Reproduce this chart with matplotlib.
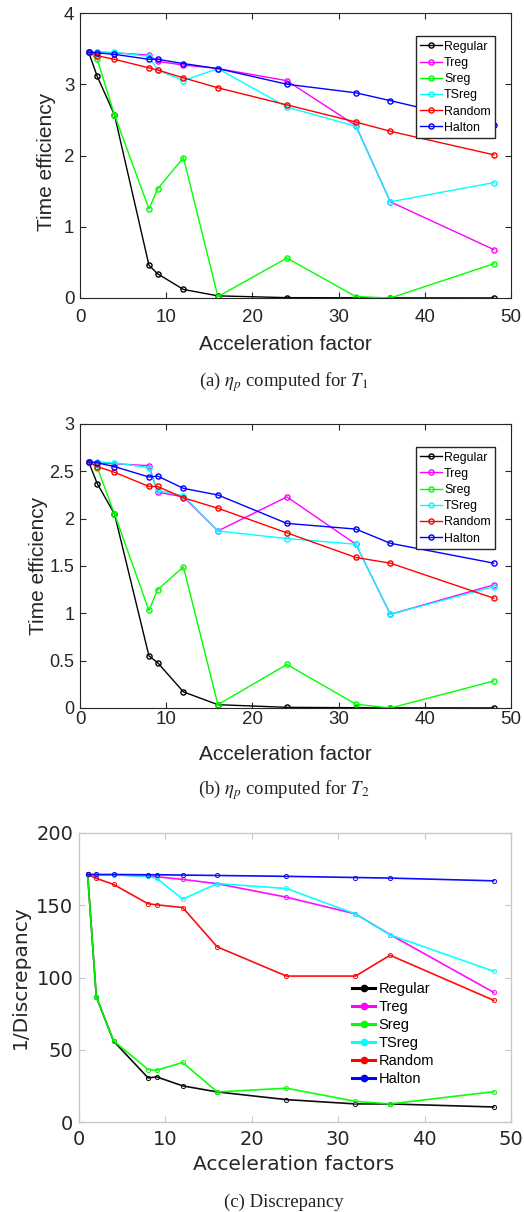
import matplotlib
matplotlib.use("Agg")
import matplotlib.pyplot as plt
from matplotlib.lines import Line2D

# acceleration factors
accel = [1, 2, 4, 8, 9, 12, 16, 24, 32, 36, 48]
names = ["Regular", "Treg", "Sreg", "TSreg", "Random", "Halton"]
colors = ["#000000", "#ff00ff", "#00ff00", "#00ffff", "#ff0000", "#0000ff"]

# (a) time efficiency for T1
t1_regular = [3.45, 3.11, 2.57, 0.46, 0.34, 0.12, 0.03, 0.005, 0.003, 0.002, 0.001]
t1_treg = [3.45, 3.45, 3.44, 3.41, 3.32, 3.27, 3.22, 3.05, 2.42, 1.35, 0.68]
t1_sreg = [3.45, 3.35, 2.57, 1.25, 1.53, 1.97, 0.02, 0.56, 0.02, 0.0, 0.48]
t1_tsreg = [3.45, 3.45, 3.45, 3.39, 3.20, 3.05, 3.22, 2.68, 2.41, 1.35, 1.62]
t1_random = [3.45, 3.40, 3.35, 3.23, 3.20, 3.09, 2.95, 2.71, 2.47, 2.34, 2.01]
t1_halton = [3.45, 3.44, 3.42, 3.35, 3.35, 3.29, 3.22, 3.00, 2.88, 2.77, 2.43]

# (b) time efficiency for T2
t2_regular = [2.60, 2.37, 2.05, 0.55, 0.48, 0.17, 0.035, 0.007, 0.003, 0.002, 0.001]
t2_treg = [2.60, 2.59, 2.58, 2.56, 2.28, 2.23, 1.87, 2.23, 1.73, 0.99, 1.30]
t2_sreg = [2.60, 2.54, 2.05, 1.03, 1.25, 1.49, 0.035, 0.46, 0.04, 0.0, 0.285]
t2_tsreg = [2.60, 2.60, 2.59, 2.54, 2.30, 2.24, 1.87, 1.79, 1.73, 0.99, 1.28]
t2_random = [2.60, 2.55, 2.49, 2.34, 2.34, 2.22, 2.11, 1.85, 1.59, 1.53, 1.16]
t2_halton = [2.60, 2.59, 2.55, 2.44, 2.45, 2.32, 2.25, 1.95, 1.89, 1.74, 1.53]

# (c) 1/discrepancy
d_regular = [171.3, 86.7, 56.0, 30.5, 31.2, 25.0, 20.8, 15.5, 12.5, 12.5, 10.4]
d_treg = [171.3, 170.9, 171.0, 170.2, 169.7, 167.9, 164.9, 155.6, 144.0, 129.7, 89.7]
d_sreg = [171.3, 86.7, 56.2, 36.3, 35.8, 41.2, 20.8, 23.4, 14.3, 12.5, 21.0]
d_tsreg = [171.3, 171.0, 171.0, 170.0, 168.6, 154.2, 165.0, 161.6, 144.0, 129.5, 104.3]
d_random = [171.3, 168.6, 164.4, 151.0, 150.3, 148.4, 121.2, 101.0, 101.0, 115.4, 84.2]
d_halton = [171.3, 171.3, 171.3, 171.1, 171.1, 170.9, 170.6, 170.0, 169.2, 168.8, 166.9]

eff1 = [t1_regular, t1_treg, t1_sreg, t1_tsreg, t1_random, t1_halton]
eff2 = [t2_regular, t2_treg, t2_sreg, t2_tsreg, t2_random, t2_halton]
disc = [d_regular, d_treg, d_sreg, d_tsreg, d_random, d_halton]

plt.rcParams["mathtext.fontset"] = "stix"

fig = plt.figure(figsize=(5.24, 12.12), dpi=100)
W, H = 524.0, 1212.0


def axes_px(left, top, right, bottom):
    ax = fig.add_axes([left / W, 1 - bottom / H, (right - left) / W, (bottom - top) / H])
    ax.px_box = (left, top, right, bottom)
    return ax


def place_labels(ax, xl, yl):
    # put axis labels at given pixel centres
    left, top, right, bottom = ax.px_box
    fx = lambda px: (px - left) / (right - left)
    fy = lambda py: (bottom - py) / (bottom - top)
    ax.xaxis.set_label_coords(fx(xl[0]), fy(xl[1]))
    ax.xaxis.label.set_va("center")
    ax.xaxis.label.set_ha("center")
    ax.yaxis.set_label_coords(fx(yl[0]), fy(yl[1]))
    ax.yaxis.label.set_va("center")
    ax.yaxis.label.set_ha("center")


def matlab_panel(ax, series, ymax, yticks, ylabel, xpad):
    for vals, name, c in zip(series, names, colors):
        ax.plot(accel, vals, color=c, lw=1.0, marker="o", ms=3.7, mfc="none",
                mew=1.0, label=name)
    ax.set_xlim(0, 50)
    ax.set_ylim(0, ymax)
    ax.set_xticks([0, 10, 20, 30, 40, 50])
    ax.set_yticks(yticks)
    ax.tick_params(direction="in", top=True, right=True, length=4, width=0.8,
                   labelsize=13.5, colors="#262626")
    ax.tick_params(axis="x", pad=xpad)
    ax.tick_params(axis="y", pad=4)
    for s in ax.spines.values():
        s.set_color("#262626")
        s.set_linewidth(0.8)
    fnt = {"family": "Liberation Sans", "size": 15, "color": "#262626"}
    for lab in ax.get_xticklabels() + ax.get_yticklabels():
        lab.set_family("Liberation Sans")
    ax.set_xlabel("Acceleration factor", fontdict=fnt)
    ax.set_ylabel(ylabel, fontdict=fnt)
    leg = ax.legend(loc="upper right", bbox_to_anchor=(0.963, 0.918), fancybox=False,
                    framealpha=1, edgecolor="#262626", borderaxespad=0,
                    prop={"family": "Liberation Sans", "size": 8.9},
                    handlelength=1.75, handletextpad=0.2, labelspacing=0.34,
                    borderpad=0.35, markerscale=1.0)
    leg.get_frame().set_linewidth(1.0)


ax1 = axes_px(80, 13, 511, 298)
matlab_panel(ax1, eff1, 4, [0, 1, 2, 3, 4], "Time efficiency", 8)
place_labels(ax1, (285, 344), (47, 162))

ax2 = axes_px(80, 424, 511, 708)
matlab_panel(ax2, eff2, 3, [0, 0.5, 1, 1.5, 2, 2.5, 3], "Time efficiency", 2)
ax2.set_yticklabels(["0", "0.5", "1", "1.5", "2", "2.5", "3"], family="Liberation Sans",
                    fontsize=13)
place_labels(ax2, (285, 755), (38, 566))

# (c) discrepancy panel, newer style
ax3 = axes_px(79, 833, 511, 1122)
for vals, name, c in zip(disc, names, colors):
    ax3.plot(accel, vals, color=c, lw=1.2, marker="o", ms=3.0, mfc="none",
             mew=0.7, alpha=0.95)
ax3.set_xlim(0, 50)
ax3.set_ylim(0, 200)
ax3.set_xticks([0, 10, 20, 30, 40, 50])
ax3.set_yticks([0, 50, 100, 150, 200])
ax3.tick_params(direction="in", top=True, right=True, length=4, width=0.8,
                labelsize=14, labelcolor="#262626", color="#c8c8c8")
ax3.tick_params(axis="x", pad=5.5)
ax3.tick_params(axis="y", pad=4)
for s in ax3.spines.values():
    s.set_color("#c8c8c8")
    s.set_linewidth(1.0)
fnt3 = {"family": "DejaVu Sans", "size": 14.5, "color": "#262626"}
ax3.set_xlabel("Acceleration factors", fontdict=fnt3)
ax3.set_ylabel("1/Discrepancy", fontdict=fnt3)
place_labels(ax3, (294, 1165), (20, 977))
handles = [Line2D([], [], color=c, lw=2.2, marker="o", ms=4.5) for c in colors]
ax3.legend(handles, names, loc="upper left", bbox_to_anchor=(0.632, 0.485),
           frameon=False, borderaxespad=0, borderpad=0,
           prop={"family": "Liberation Sans", "size": 10.5},
           handlelength=1.6, handletextpad=0.2, labelspacing=0.28)

cap = {"family": "Liberation Serif", "size": 13.5, "color": "#222222", "ha": "center", "va": "center"}
fig.text(284 / W, 1 - 382 / H, r"(a) $\eta_p$ computed for $T_1$", **cap)
fig.text(284 / W, 1 - 790 / H, r"(b) $\eta_p$ computed for $T_2$", **cap)
fig.text(284 / W, 1 - 1202 / H, "(c) Discrepancy", **cap)

fig.savefig("out.png", dpi=100)
